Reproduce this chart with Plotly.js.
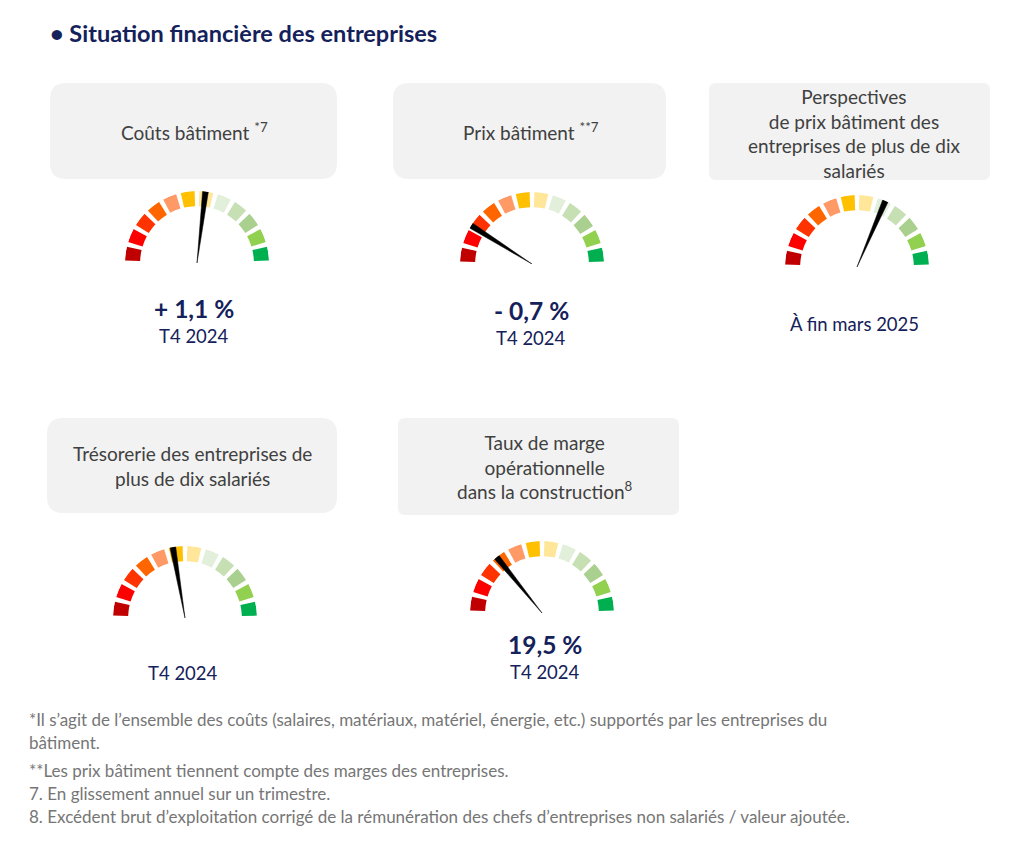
<!DOCTYPE html>
<html>
<head>
<meta charset="utf-8">
<script src="https://cdn.plot.ly/plotly-3.0.1.min.js"></script>
<style>html,body{margin:0;padding:0;background:#fff;}#chart{width:1034px;height:851px;}</style>
</head>
<body>
<div id="chart"></div>
<script>
// ---- data ----
const segmentColors = ['#C00000','#FF0000','#FF3300','#FF6600','#FF9966','#FFC000','#FFE699','#E2EFDA','#C6E0B4','#A9D08E','#92D050','#00B050'];
const gaugeTitles = [
  'Coûts bâtiment <sup>*7</sup>',
  'Prix bâtiment <sup>**7</sup>',
  'Perspectives<br>de prix bâtiment des<br>entreprises de plus de dix<br>salariés',
  'Trésorerie des entreprises de<br>plus de dix salariés',
  'Taux de marge<br>opérationnelle<br>dans la construction<sup>8</sup>'
];
const gaugeValues = ['+ 1,1 %', '- 0,7 %', '', '', '19,5 %'];
const gaugePeriods = ['T4 2024', 'T4 2024', 'À fin mars 2025', 'T4 2024', 'T4 2024'];
// needle position on the 0-12 segment scale (0 = far left, 12 = far right)
const needlePositions = [6.45, 2.15, 7.55, 5.35, 3.4];
const chartTitle = '• Situation financière des entreprises';
const footnotes = [
  '*Il s’agit de l’ensemble des coûts (salaires, matériaux, matériel, énergie, etc.) supportés par les entreprises du',
  'bâtiment.',
  '**Les prix bâtiment tiennent compte des marges des entreprises.',
  '7. En glissement annuel sur un trimestre.',
  '8. Excédent brut d’exploitation corrigé de la rémunération des chefs d’entreprises non salariés / valeur ajoutée.'
];

// ---- layout constants ----
const W = 1034, H = 851, R = 72;
const FONT = 'Lato, "Open Sans", sans-serif';
const NAVY = '#14215A';
const gaugeCenters = [[197,263],[532,264],[857,267],[185,618],[542,613]];
const boxes = [[50,83,337,179,16],[393,83,666,179,16],[709,83,990,180,7],[47,418,337,513,16],[398,418,679,515,7]];
const titleY = [131,131,133,466,467];
const valueY = [308,310,null,null,644];
const periodY = [336,338,324,673,672];
const textX = [194,531,854,192,545];
const footY = [719,742,770,793,816];

const nSeg = segmentColors.length;
const step = 180 / nSeg;

function roundRect(x0,y0,x1,y1,r){
  return `M${x0+r},${y0} L${x1-r},${y0} Q${x1},${y0} ${x1},${y0+r} L${x1},${y1-r} Q${x1},${y1} ${x1-r},${y1} L${x0+r},${y1} Q${x0},${y1} ${x0},${y1-r} L${x0},${y0+r} Q${x0},${y0} ${x0+r},${y0} Z`;
}

const traces = [{type:'scatter', x:[], y:[], xaxis:'x', yaxis:'y', hoverinfo:'skip', showlegend:false}];
const layout = {
  width: W, height: H,
  margin: {l:0,r:0,t:0,b:0},
  paper_bgcolor: '#ffffff', plot_bgcolor: 'rgba(0,0,0,0)',
  showlegend: false,
  xaxis: {range:[0,W], visible:false, fixedrange:true, domain:[0,1]},
  yaxis: {range:[H,0], visible:false, fixedrange:true, domain:[0,1]},
  shapes: [], annotations: []
};

gaugeCenters.forEach((c, g) => {
  const pid = g === 0 ? 'polar' : 'polar' + (g+1);
  const [cx, cy] = c;
  layout[pid] = {
    domain: {x:[(cx-R)/W, (cx+R)/W], y:[(H-cy)/H, (H-cy+R)/H]},
    sector: [0,180],
    bgcolor: 'rgba(0,0,0,0)',
    radialaxis: {visible:false, range:[0,1]},
    angularaxis: {visible:false, rotation:0, direction:'counterclockwise'}
  };
  traces.push({
    type:'barpolar', subplot: pid,
    theta: segmentColors.map((col,i) => 180 - (i+0.5)*step),
    r: segmentColors.map(() => 0.21),
    base: 0.79,
    width: segmentColors.map(() => 11.2),
    marker: {color: segmentColors, line:{width:0}},
    hoverinfo:'skip'
  });
  const th = 180 - needlePositions[g]*step;
  traces.push({
    type:'scatterpolar', subplot: pid, mode:'lines',
    r: [0, 1.0, 1.0, 0],
    theta: [th, th-2.3, th+2.3, th],
    fill:'toself', fillcolor:'#000000',
    line:{color:'#000000', width:0.5},
    hoverinfo:'skip'
  });
  const b = boxes[g];
  layout.shapes.push({type:'path', xref:'x', yref:'y', path: roundRect(b[0],b[1],b[2],b[3],b[4]), fillcolor:'#F2F2F2', line:{width:0}, layer:'below'});
  layout.annotations.push({xref:'x', yref:'y', x:textX[g] , y:titleY[g], text:gaugeTitles[g], showarrow:false, xanchor:'center', yanchor:'middle', align:'center', font:{family:FONT, size:19, color:'#404040'}});
  if (gaugeValues[g]) {
    layout.annotations.push({xref:'x', yref:'y', x:textX[g], y:valueY[g], text:'<b>'+gaugeValues[g]+'</b>', showarrow:false, xanchor:'center', yanchor:'middle', font:{family:FONT, size:24.5, color:NAVY}});
  }
  layout.annotations.push({xref:'x', yref:'y', x:(g===3?183:textX[g]), y:periodY[g], text:gaugePeriods[g], showarrow:false, xanchor:'center', yanchor:'middle', font:{family:FONT, size:18.5, color:NAVY}});
});

layout.annotations.push({xref:'x', yref:'y', x:48, y:33, text:'<b>'+chartTitle+'</b>', showarrow:false, xanchor:'left', yanchor:'middle', font:{family:FONT, size:23.5, color:NAVY}});
footnotes.forEach((t,i) => {
  layout.annotations.push({xref:'x', yref:'y', x:27, y:footY[i], text:t, showarrow:false, xanchor:'left', yanchor:'middle', font:{family:FONT, size:17, color:'#767676'}});
});

Plotly.newPlot('chart', traces, layout, {staticPlot:true, displayModeBar:false});
</script>
</body>
</html>
